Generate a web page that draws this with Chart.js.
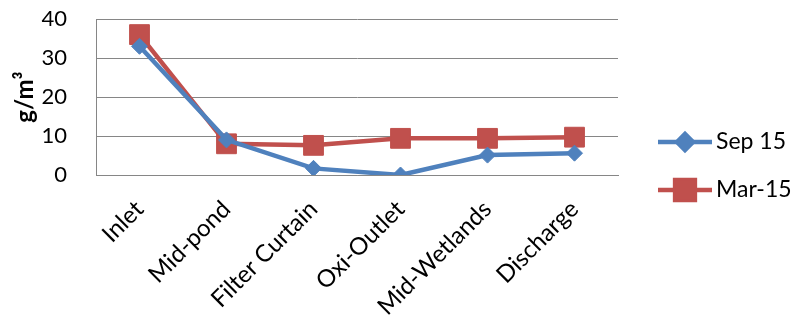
<!DOCTYPE html>
<html>
<head>
<meta charset="utf-8">
<script src="https://cdn.jsdelivr.net/npm/chart.js@4"></script>
<style>
  html, body { margin: 0; padding: 0; background: #fff; }
  #wrap { width: 798px; height: 323px; position: relative; }
</style>
</head>
<body>
<div id="wrap"><canvas id="tssChart"></canvas></div>
<script>
const sites = ["Inlet", "Mid-pond", "Filter Curtain", "Oxi-Outlet", "Mid-Wetlands", "Discharge"];
const sep15 = [33, 9, 1.7, 0, 5.1, 5.6];
const mar15 = [36, 8, 7.6, 9.4, 9.4, 9.7];
const yTicks = [0, 10, 20, 30, 40];

const fontFamily = "Lato, 'Open Sans', sans-serif";

// Excel-style legend: a short line with the marker in the middle
const lineLegend = {
    id: "lineLegend",
    afterDraw(chart) {
        const ctx = chart.ctx;
        const x0 = 658, x1 = 712;
        const rows = [142, 190];
        chart.data.datasets.forEach((ds, i) => {
            const y = rows[i];
            ctx.save();
            ctx.strokeStyle = ds.borderColor;
            ctx.lineWidth = ds.borderWidth;
            ctx.beginPath();
            ctx.moveTo(x0, y);
            ctx.lineTo(x1, y);
            ctx.stroke();
            Chart.helpers.drawPoint(ctx, {
                pointStyle: ds.pointStyle,
                radius: ds.pointRadius,
                borderWidth: 1
            }, (x0 + x1) / 2, y);
            ctx.fillStyle = ds.pointBackgroundColor;
            ctx.fill();
            ctx.fillStyle = "#000";
            ctx.font = "23px " + fontFamily;
            ctx.textBaseline = "middle";
            ctx.fillText(ds.label, x1 + 4, y);
            ctx.restore();
        });
    }
};

const ctx = document.getElementById("tssChart").getContext("2d");
new Chart(ctx, {
    type: "line",
    data: {
        labels: sites,
        datasets: [
            {
                label: "Sep 15",
                data: sep15,
                borderColor: "#4F81BD",
                backgroundColor: "#4F81BD",
                pointBackgroundColor: "#4F81BD",
                pointBorderColor: "#4F81BD",
                borderWidth: 4.5,
                pointStyle: "rectRot",
                pointRadius: 8,
                pointBorderWidth: 1,
                tension: 0
            },
            {
                label: "Mar-15",
                data: mar15,
                borderColor: "#C0504D",
                backgroundColor: "#C0504D",
                pointBackgroundColor: "#C0504D",
                pointBorderColor: "#C0504D",
                borderWidth: 4.5,
                pointStyle: "rect",
                pointRadius: 14,
                pointBorderWidth: 1,
                tension: 0
            }
        ]
    },
    options: {
        responsive: true,
        maintainAspectRatio: false,
        animation: false,
        layout: { padding: { top: 19, right: 180, left: 0, bottom: 0 } },
        plugins: {
            legend: { display: false },
            tooltip: { enabled: false }
        },
        scales: {
            x: {
                offset: true,
                afterFit(axis) { axis.height = 148; },
                grid: { display: false, drawTicks: false },
                border: { display: true, color: "#868686", width: 1 },
                ticks: {
                    color: "#000",
                    font: { family: fontFamily, size: 24 },
                    minRotation: 45,
                    maxRotation: 45,
                    padding: 20,
                    autoSkip: false
                }
            },
            y: {
                min: 0,
                max: 40,
                // fixed axis width; keep the wide label gap from pushing the plot down
                afterFit(axis) {
                    axis.width = 96;
                    axis.paddingTop = 12;
                    axis.paddingBottom = 12;
                },
                afterBuildTicks(axis) {
                    axis.ticks = yTicks.map(v => ({ value: v }));
                },
                grid: { color: "#868686", lineWidth: 1, drawTicks: false },
                border: { display: true, color: "#868686", width: 1 },
                ticks: {
                    color: "#000",
                    font: { family: fontFamily, size: 22 },
                    padding: 29
                },
                title: {
                    display: true,
                    text: "g/m³",
                    color: "#000",
                    font: { family: fontFamily, size: 24, weight: "bold" },
                    padding: { top: 11, bottom: 0 }
                }
            }
        }
    },
    plugins: [lineLegend]
});
</script>
</body>
</html>
